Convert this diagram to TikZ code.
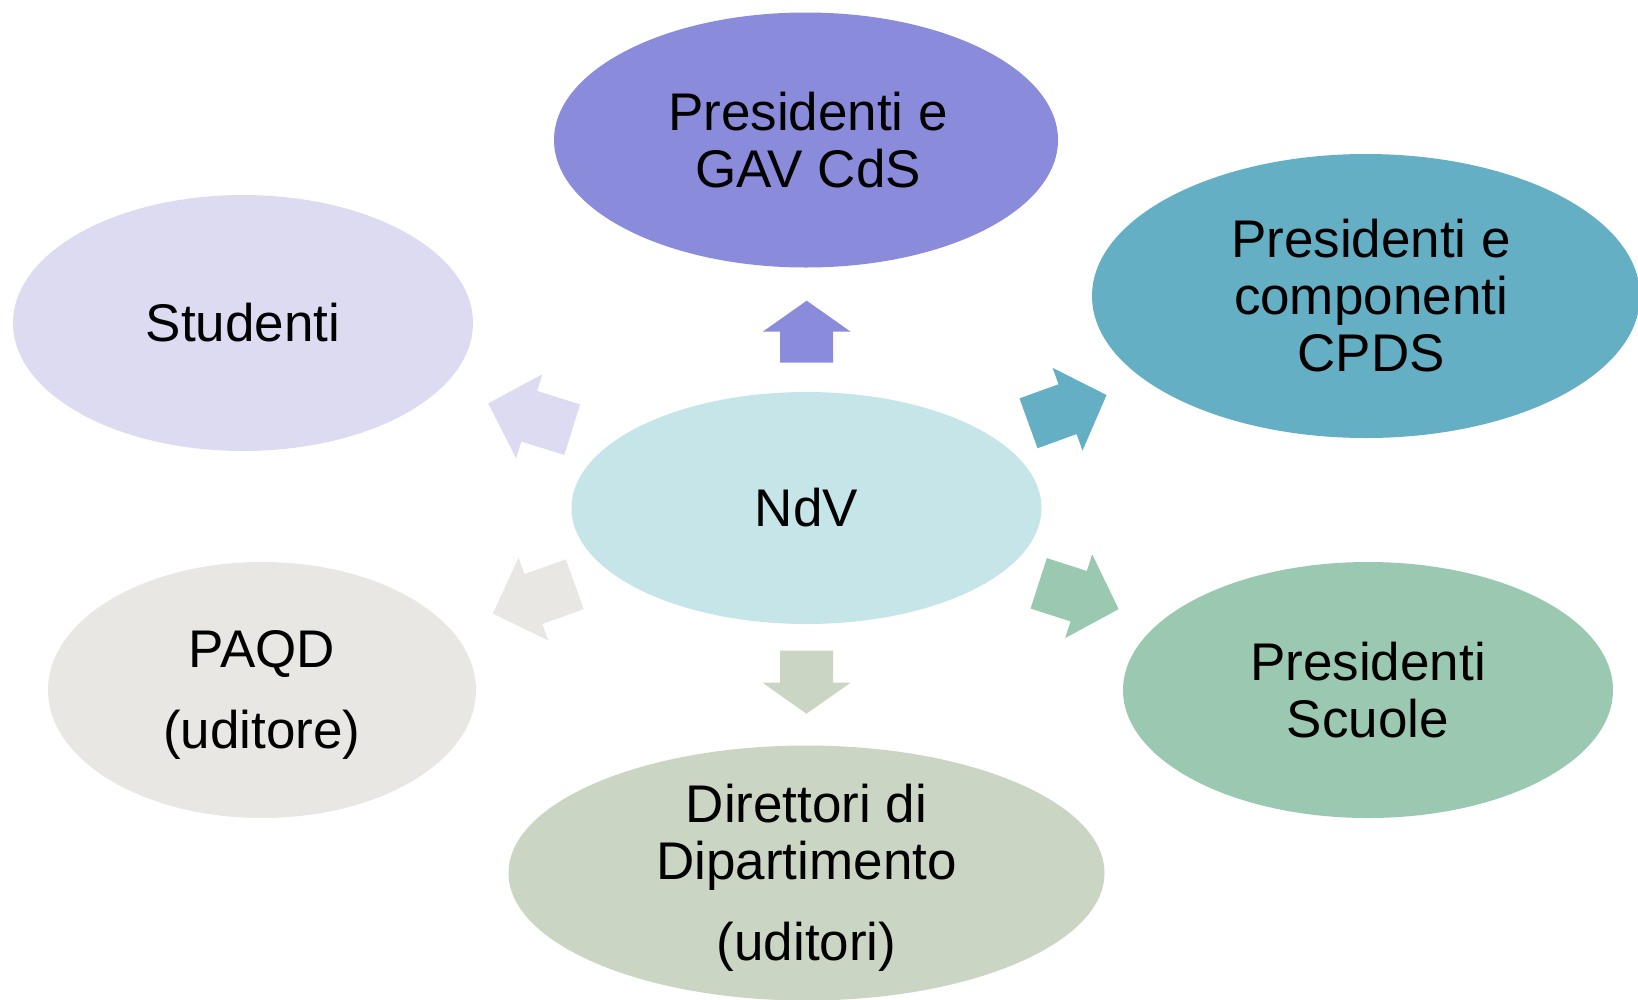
\documentclass[tikz,border=0pt]{standalone}
\usepackage{fontspec}
\setmainfont{Liberation Sans}
\usetikzlibrary{shapes.geometric}
\definecolor{cTop}{HTML}{8A8CDB}
\definecolor{cStu}{HTML}{DCDBF2}
\definecolor{cCpds}{HTML}{64AFC4}
\definecolor{cNdv}{HTML}{C5E5E8}
\definecolor{cPaqd}{HTML}{E8E7E3}
\definecolor{cScu}{HTML}{9AC8B0}
\definecolor{cDir}{HTML}{CBD5C3}
\tikzset{
  bubble/.style={ellipse, inner sep=0pt, align=center,
    font=\fontsize{53}{57}\selectfont, text=black},
  label text/.style={inner sep=0pt, align=center,
    font=\fontsize{53}{57}\selectfont, text=black},
}
\newcommand\barrow[5]{%
  \fill[#5,shift={#1},rotate=#2] (0,-26.5) -- (#3,-26.5) -- (#3,-44) -- (#3+#4,0)
    -- (#3,44) -- (#3,26.5) -- (0,26.5) -- cycle;}
\begin{document}
\begin{tikzpicture}[x=1pt,y=-1pt]
\useasboundingbox (0,0) rectangle (1638,999);
\clip (0,0) rectangle (1638,999);
\node[bubble, fill=cTop, minimum width=504, minimum height=255] (gav) at (806,140) {};
\node[label text] (gavT) at ([xshift=2pt]gav.center) {Presidenti e\\GAV CdS};
\node[bubble, fill=cStu, minimum width=460, minimum height=256] (stu) at (243,323) {Studenti};
\node[bubble, fill=cCpds, minimum width=548, minimum height=284] (cpds) at (1366,296) {};
\node[label text] (cpdsT) at ([xshift=5pt]cpds.center) {Presidenti e\\componenti\\CPDS};
\node[bubble, fill=cNdv, minimum width=470, minimum height=232] (ndv) at (806.5,508) {NdV};
\node[bubble, fill=cPaqd, minimum width=428, minimum height=256] (paqd) at (262,690) {};
\node[label text] (paqdT) at ([yshift=-5pt]paqd.center) {PAQD\\[24pt](uditore)};
\node[bubble, fill=cScu, minimum width=490, minimum height=256] (scu) at (1368,690) {Presidenti\\Scuole};
\node[bubble, fill=cDir, minimum width=596, minimum height=255] (dir) at (806.5,873) {};
\node[label text] (dirT) at ([yshift=-5pt]dir.center) {Direttori di\\Dipartimento\\[24pt](uditori)};
\coordinate (aTop) at (806.7,362.7);
\coordinate (aDir) at (806.5,650.7);
\coordinate (aCpds) at (1028.5,423.3);
\coordinate (aStu) at (572.2,429.7);
\coordinate (aPaqd) at (574.8,584.2);
\coordinate (aScu) at (1038.7,583.3);
\barrow{(aTop)}{90}{31}{31}{cTop}
\barrow{(aDir)}{-90}{32}{31}{cDir}
\barrow{(aCpds)}{19.9}{41.5}{41.5}{cCpds}
\barrow{(aStu)}{162.6}{45}{43}{cStu}
\barrow{(aPaqd)}{199.7}{44}{43}{cPaqd}
\barrow{(aScu)}{-17.9}{42}{42}{cScu}
\end{tikzpicture}
\end{document}
